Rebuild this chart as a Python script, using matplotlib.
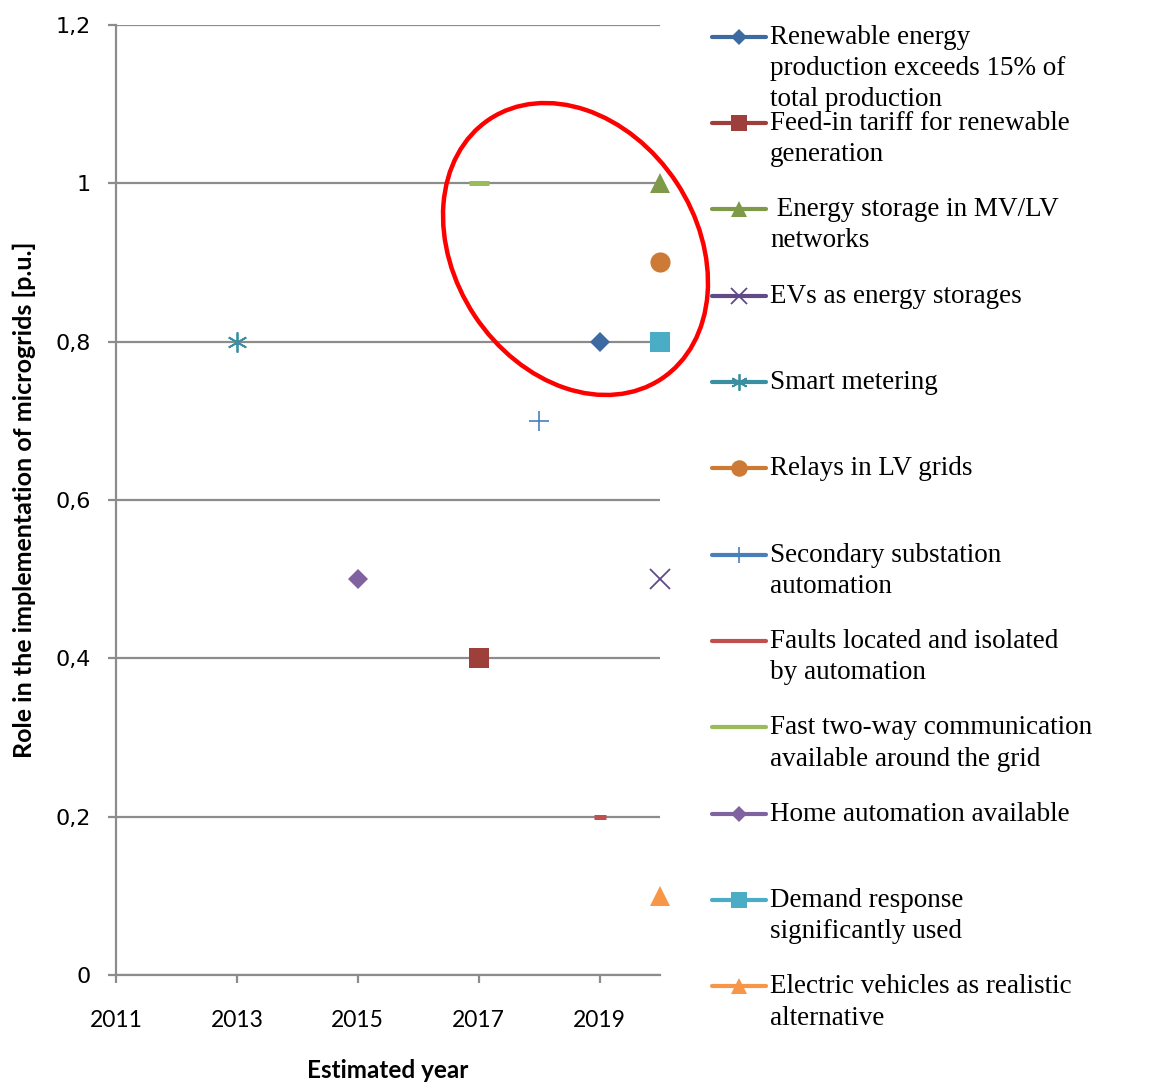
import matplotlib.pyplot as plt
from matplotlib.lines import Line2D
from matplotlib.patches import Ellipse
from matplotlib.ticker import FuncFormatter, FixedLocator, MultipleLocator

# Series data (estimated year, role in the implementation of microgrids)
labels = [
    "Renewable energy\nproduction exceeds 15% of\ntotal production",
    "Feed-in tariff for renewable\ngeneration",
    " Energy storage in MV/LV\nnetworks",
    "EVs as energy storages",
    "Smart metering",
    "Relays in LV grids",
    "Secondary substation\nautomation",
    "Faults located and isolated\nby automation",
    "Fast two-way communication\navailable around the grid",
    "Home automation available",
    "Demand response\nsignificantly used",
    "Electric vehicles as realistic\nalternative",
]
years = [2019, 2017, 2020, 2020, 2013, 2020, 2018, 2019, 2017, 2015, 2020, 2020]
roles = [0.8, 0.4, 1.0, 0.5, 0.8, 0.9, 0.7, 0.2, 1.0, 0.5, 0.8, 0.1]
year_ticks = [2011, 2013, 2015, 2017, 2019]

colors = ['#3D6AA0', '#9E3F3C', '#7E9A48', '#604A87', '#3A8FA3', '#CC7A35',
          '#4A7EBB', '#C0504D', '#9BBB59', '#8062A0', '#4BACC6', '#F79646']
markers = ['D', 's', '^', 'x', (6, 2, 0), 'o', '+', '_', '_', 'D', 's', '^']
msizes = [10.5, 14.5, 14.5, 14, 14.5, 14.5, 14, 8.5, 15, 10.5, 14.5, 14.5]
mews = [0, 0, 0, 1.3, 1.3, 0, 1.2, 3.6, 3.6, 0, 0, 0]

fig = plt.figure(figsize=(11.56, 10.82), dpi=100)
W, H = 1156, 1082
ax = fig.add_axes([116 / W, 1 - 975 / H, (660 - 116) / W, (975 - 25) / H])

grid_c = '#8C8C8C'
for x, y, c, m, s, e in zip(years, roles, colors, markers, msizes, mews):
    ax.plot([x], [y], linestyle='none', marker=m, markersize=s, color=c,
            markeredgewidth=e, clip_on=False, zorder=3)

ax.set_xlim(2011, 2020)
ax.set_ylim(0, 1.2)
ax.xaxis.set_major_locator(FixedLocator(year_ticks))
ax.yaxis.set_major_locator(MultipleLocator(0.2))
ax.yaxis.set_major_formatter(FuncFormatter(lambda v, p: f"{v:.1f}".replace('.', ',').replace(',0', '')))
ax.grid(axis='y', color=grid_c, linewidth=1.6)
ax.set_axisbelow(True)
for s in ['top', 'right']:
    ax.spines[s].set_visible(False)
for s in ['left', 'bottom']:
    ax.spines[s].set_color(grid_c)
    ax.spines[s].set_linewidth(1.6)
ax.tick_params(axis='both', direction='out', length=6, width=1.6, color=grid_c)
ax.tick_params(axis='x', pad=19, labelsize=16.5, labelfontfamily='Lato')
ax.tick_params(axis='y', pad=12, labelsize=16, labelfontfamily='DejaVu Sans')

ax.set_xlabel('Estimated year', fontfamily='Lato', fontweight='bold', fontsize=17.5, labelpad=20)
ax.set_ylabel('Role in the implementation of microgrids [p.u.]', fontfamily='Lato',
              fontweight='bold', fontsize=18, labelpad=14)

# red ellipse highlighting the group of late technologies
ell = Ellipse((575.5 / 100, (H - 249) / 100), 2 * 155.7 / 100, 2 * 120.9 / 100, angle=-56.5,
              transform=fig.dpi_scale_trans, fill=False, edgecolor='#FF0000', linewidth=3.2,
              clip_on=False, zorder=5)
fig.add_artist(ell)

# legend drawn by hand, entries spaced evenly down the right side
top_px, step_px = 36.5, 86.35
for i, (lab, c, m, s, e) in enumerate(zip(labels, colors, markers, msizes, mews)):
    yp = top_px + i * step_px
    yf = 1 - yp / H
    fig.add_artist(Line2D([712 / W, 766 / W], [yf, yf], transform=fig.transFigure,
                          color=c, linewidth=3, solid_capstyle='round'))
    if m != '_':
        fig.add_artist(Line2D([739 / W], [yf], transform=fig.transFigure, linestyle='none',
                              color=c, marker=m, markersize=s * 0.82, markeredgewidth=e))
    fig.text(770 / W, 1 - (yp - 12) / H, lab, fontfamily='Liberation Serif', fontsize=19.5,
             va='top', ha='left', linespacing=1.33, color='black')

fig.savefig('out.png', dpi=100)
